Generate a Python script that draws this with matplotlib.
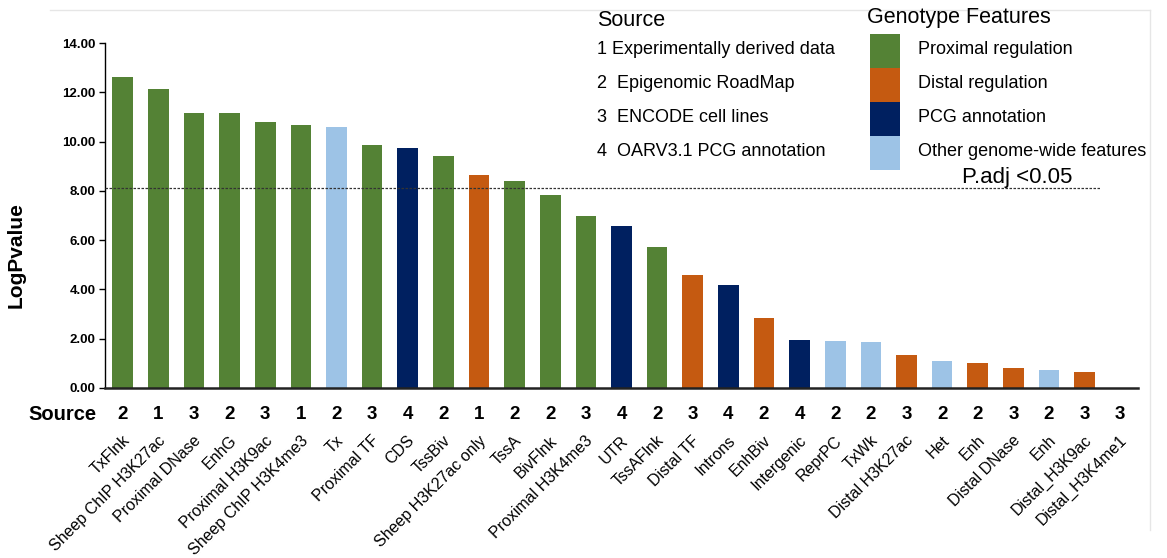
import numpy as np
import matplotlib
matplotlib.use('Agg')
import matplotlib.pyplot as plt
from matplotlib.patches import Rectangle
from matplotlib.lines import Line2D

plt.rcParams['font.family'] = ['Liberation Sans', 'DejaVu Sans']

# genomic features, ordered by significance
features = ['TxFlnk', 'Sheep ChIP H3K27ac', 'Proximal DNase', 'EnhG', 'Proximal H3K9ac',
            'Sheep ChIP H3K4me3', 'Tx', 'Proximal TF', 'CDS', 'TssBiv',
            'Sheep H3K27ac only', 'TssA', 'BivFlnk', 'Proximal H3K4me3', 'UTR',
            'TssAFlnk', 'Distal TF', 'Introns', 'EnhBiv', 'Intergenic',
            'ReprPC', 'TxWk', 'Distal H3K27ac', 'Het', 'Enh',
            'Distal DNase', 'Enh', 'Distal_H3K9ac', 'Distal_H3K4me1']
logp = [12.62, 12.12, 11.15, 11.15, 10.81,
        10.67, 10.58, 9.86, 9.73, 9.42,
        8.66, 8.39, 7.83, 7.00, 6.58,
        5.71, 4.58, 4.16, 2.86, 1.96,
        1.92, 1.85, 1.35, 1.08, 1.02,
        0.80, 0.73, 0.63, 0.0]
source = [2, 1, 3, 2, 3, 1, 2, 3, 4, 2, 1, 2, 2, 3, 4, 2, 3, 4, 2, 4, 2, 2, 3, 2, 2, 3, 2, 3, 3]
# P = proximal regulation, D = distal regulation, C = PCG annotation, O = other
group = ['P', 'P', 'P', 'P', 'P', 'P', 'O', 'P', 'C', 'P',
         'D', 'P', 'P', 'P', 'C', 'P', 'D', 'C', 'D', 'C',
         'O', 'O', 'D', 'O', 'D', 'D', 'O', 'D', 'D']
threshold = 8.1

group_names = ['Proximal regulation', 'Distal regulation', 'PCG annotation', 'Other genome-wide features']
group_keys = ['P', 'D', 'C', 'O']
colors = {'P': '#548235', 'D': '#C55A11', 'C': '#002060', 'O': '#9DC3E6'}
source_names = ['1 Experimentally derived data', '2  Epigenomic RoadMap',
                '3  ENCODE cell lines', '4  OARV3.1 PCG annotation']

W, H = 1167, 558
fig = plt.figure(figsize=(W / 100, H / 100), dpi=100)
ax = fig.add_axes([105 / W, 1 - 388 / H, (1138 - 105) / W, 345 / H])

x = np.arange(len(features))
ax.bar(x, logp, width=0.58, color=[colors[g] for g in group], zorder=2)
ax.plot([-0.5, 27.45], [threshold, threshold], ls=(0, (2, 1.2)), color='#333333', lw=0.9, zorder=3)

ax.set_xlim(-0.5, 28.5)
ax.set_ylim(0, 14)
ax.set_yticks(np.arange(0, 15, 2))
ax.set_yticklabels(['%.2f' % v for v in np.arange(0, 15, 2)], fontweight='bold', fontsize=9.5)
ax.set_xticks([])
for s in ['top', 'right']:
    ax.spines[s].set_visible(False)
ax.spines['bottom'].set_linewidth(1.8)
ax.spines['bottom'].set_color('#222222')
ax.spines['left'].set_linewidth(1.0)
ax.tick_params(axis='y', length=4, width=1, pad=3)

ax.set_ylabel('LogPvalue', fontsize=15, fontweight='bold')
ax.yaxis.set_label_coords(-0.077, 0.385)

tr = ax.get_xaxis_transform()
for i in range(len(features)):
    ax.text(x[i], -0.078, str(source[i]), transform=tr, ha='center', va='center',
            fontsize=13.5, fontweight='bold')
    ax.text(x[i] - 0.02, -0.13, features[i], transform=tr, ha='right', va='top',
            rotation=45, rotation_mode='anchor', fontsize=11.5)
fig.text(28 / W, 1 - 415 / H, 'Source', ha='left', va='center', fontsize=14.5, fontweight='bold')

# source legend
fig.text(597 / W, 1 - 20 / H, 'Source', ha='left', va='center', fontsize=15.5)
for k, name in enumerate(source_names):
    fig.text(597 / W, 1 - (50 + 33.7 * k) / H, name, ha='left', va='center', fontsize=13)

# genotype features legend
fig.text(867 / W, 1 - 17 / H, 'Genotype Features', ha='left', va='center', fontsize=15.5)
for k, key in enumerate(group_keys):
    top = 34 + 34 * k
    fig.patches.append(Rectangle((870 / W, 1 - (top + 34) / H), 30 / W, 34 / H,
                                 transform=fig.transFigure, facecolor=colors[key],
                                 edgecolor='none'))
    fig.text(918 / W, 1 - (50 + 33.7 * k) / H, group_names[k], ha='left', va='center', fontsize=13)
fig.text(962 / W, 1 - 178 / H, 'P.adj <0.05', ha='left', va='center', fontsize=16)

# faint frame of the original picture
fig.lines.append(Line2D([50 / W, 1150 / W], [1 - 10 / H, 1 - 10 / H], transform=fig.transFigure,
                        color='#e6e6e6', lw=1))
fig.lines.append(Line2D([1150 / W, 1150 / W], [1 - 10 / H, 1 - 530 / H], transform=fig.transFigure,
                        color='#e6e6e6', lw=1))

plt.savefig('out.png', dpi=100)
plt.close()
